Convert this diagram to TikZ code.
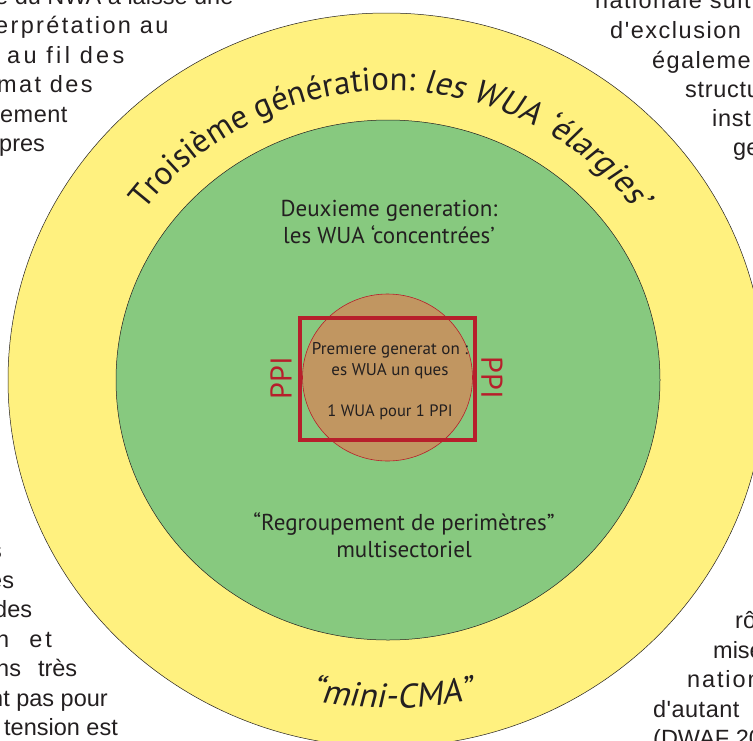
\documentclass[tikz,border=0pt]{standalone}
\usepackage{fontspec}
\setmainfont{PT Sans}
\newfontfamily\sidefont{Liberation Sans}
\usetikzlibrary{decorations.text}
\definecolor{ylw}{HTML}{FFF17F}
\definecolor{grn}{HTML}{87C97F}
\definecolor{brn}{HTML}{C19661}
\definecolor{rd}{HTML}{B71F2B}
\definecolor{ink}{HTML}{231F20}
\tikzset{
 x=1pt,y=-1pt,
 side/.style={font=\sidefont\fontsize{23.5}{25}\selectfont,text=ink,inner sep=0pt},
 sl/.style={side,anchor=base west},
 body/.style={font=\fontsize{23}{27.5}\selectfont,text=ink,align=center,inner sep=0pt},
 small/.style={font=\fontsize{17}{21}\selectfont,text=ink,align=center,inner sep=0pt},
 ppi/.style={font=\fontsize{30}{32}\selectfont,text=rd,inner sep=0pt},
 ring/.style={draw=ink,line width=0.5pt},
}
\begin{document}
\begin{tikzpicture}
\useasboundingbox (0,0) rectangle (753,740);
\clip (0,0) rectangle (753,740);
\node[sl] (l1) at (-5,4) {e du NWA a laissé une};
\node[sl] (l2) at (-5,33) {\addfontfeature{LetterSpace=10}erprétation au};
\node[sl] (l3) at (7,63) {\addfontfeature{LetterSpace=14}au fil des};
\node[sl] (l4) at (-3,92) {\addfontfeature{LetterSpace=10}mat des};
\node[sl] (l5) at (0,122) {\addfontfeature{LetterSpace=2}ement};
\node[sl] (l6) at (-1,151) {pres};
\node[sl] (r1) at (595,8) {\addfontfeature{LetterSpace=6}nationale suit};
\node[sl] (r2) at (610,38) {\addfontfeature{LetterSpace=6.5}d'exclusion};
\node[sl] (r3) at (652,68) {\addfontfeature{LetterSpace=6}égaleme};
\node[sl] (r4) at (685,97) {\addfontfeature{LetterSpace=3}structu};
\node[sl] (r5) at (712,126) {\addfontfeature{LetterSpace=3}inst};
\node[sl] (r6) at (733,155) {ge};
\node[sl] (b1) at (-10,558) {s};
\node[sl] (b2) at (-11,588) {es};
\node[sl] (b3) at (-6,617) {des};
\node[sl] (b4) at (-4,647) {n\hspace{20pt}e\hspace{3pt}t};
\node[sl] (b5) at (-4,676) {ns\hspace{17pt}très};
\node[sl] (b6) at (-10,706) {nt pas pour};
\node[sl] (b7) at (4,735) {tension est};
\node[sl] (c1) at (735,628) {rô};
\node[sl] (c2) at (713,658) {mise};
\node[sl] (c3) at (687,687) {\addfontfeature{LetterSpace=8}nation};
\node[sl] (c4) at (653,717) {\addfontfeature{LetterSpace=2}d'autant};
\node[sl] (c5) at (653,746) {(DWAF 20};
\fill[ylw] (386.5,380) ellipse [x radius=378.5,y radius=367];
\draw[ring] (386.5,380) ellipse [x radius=378.5,y radius=367];
\fill[grn] (388,380) ellipse [x radius=272,y radius=260];
\draw[ring] (388,380) ellipse [x radius=272,y radius=260];
\path[decorate,decoration={text along path,text align=center,
  text={|\fontsize{33}{35}\selectfont\color{ink}|Troisième génération: |\fontsize{33}{35}\selectfont\color{ink}\addfontfeature{FakeSlant=0.2}|les WUA ‘élargies’}}]
  (135.2,223) arc[start angle=215,end angle=325,radius=311];
\node[body] (second) at (389,222) {Deuxieme generation:\\les WUA ‘concentrées’};
\node[body] (regroup) at (404,535) {“Regroupement de perimètres”\\multisectoriel};
\path[decorate,decoration={text along path,text align=center,
  text={|\fontsize{34}{36}\selectfont\color{ink}\addfontfeature{FakeSlant=0.2}|“mini-CMA”}}]
  (279.5,692.2) arc[start angle=106,end angle=74,radius=408];
\fill[brn] (387.5,377.5) ellipse [x radius=85,y radius=83.5];
\draw[rd,line width=0.6pt] (387.5,377.5) ellipse [x radius=85,y radius=83.5];
\draw[rd,line width=3.8pt] (300,318) rectangle (475,440);
\node[small] (first) at (390,361) {Premıere generat on :\\es WUA un ques};
\node[small,font=\fontsize{16.5}{20}\selectfont] (rule) at (390,412) {1 WUA pour 1 PPI};
\node[ppi,rotate=90] (ppil) at (281,378) {PPI};
\node[ppi,rotate=-90] (ppir) at (492,378) {PPI};
\end{tikzpicture}
\end{document}
